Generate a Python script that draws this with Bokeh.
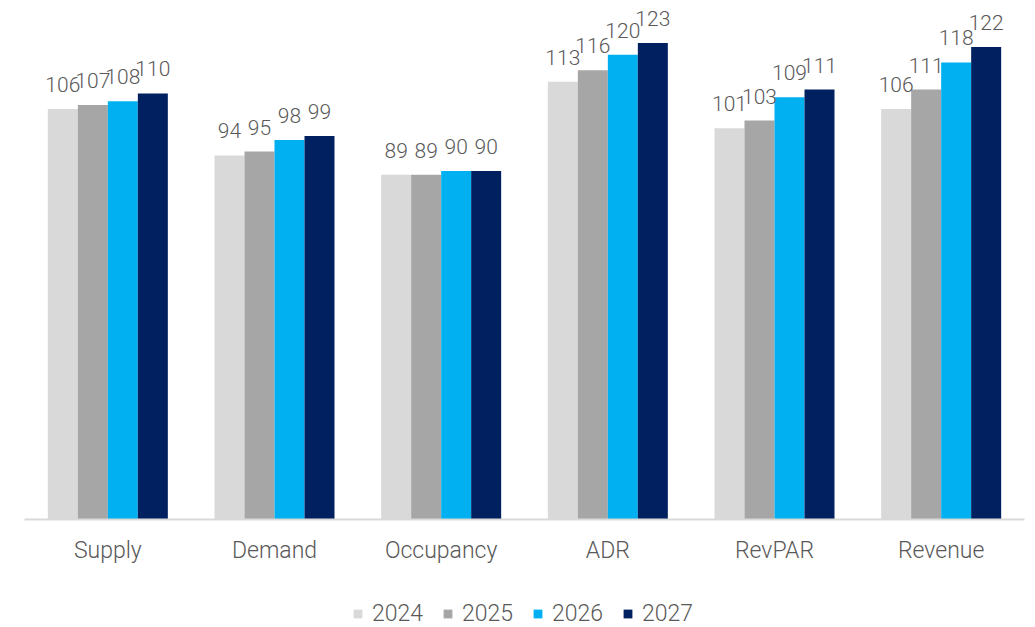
from bokeh.plotting import figure
from bokeh.models import ColumnDataSource, FactorRange, Range1d, Legend, LegendItem, LabelSet
from bokeh.layouts import column
from bokeh.core.properties import value
from bokeh.transform import dodge
from bokeh.embed import file_html
from bokeh.resources import INLINE

categories = ["Supply", "Demand", "Occupancy", "ADR", "RevPAR", "Revenue"]
years = ["2024", "2025", "2026", "2027"]
v2024 = [106, 94, 89, 113, 101, 106]
v2025 = [107, 95, 89, 116, 103, 111]
v2026 = [108, 98, 90, 120, 109, 118]
v2027 = [110, 99, 90, 123, 111, 122]
colors = ["#d9d9d9", "#a6a6a6", "#00b0f0", "#002060"]

FONT = "'Roboto Light', Roboto"
TXT = "#595959"

series = [v2024, v2025, v2026, v2027]
src = ColumnDataSource(dict(cat=categories, **{y: s for y, s in zip(years, series)},
                            **{"t" + y: [str(v) for v in s] for y, s in zip(years, series)}))

p = figure(x_range=FactorRange(*categories, range_padding=0), y_range=Range1d(0, 134),
           width=1035, height=590,
           output_backend="svg", toolbar_location=None,
           min_border_left=24, min_border_right=11, min_border_top=0, min_border_bottom=71)
p.x_range.range_padding = 0
p.outline_line_color = None
p.background_fill_color = "white"
p.border_fill_color = "white"
p.xgrid.grid_line_color = None
p.ygrid.grid_line_color = None
p.yaxis.visible = False

bw = 0.18
offsets = [-1.5 * bw, -0.5 * bw, 0.5 * bw, 1.5 * bw]
for y, c, off in zip(years, colors, offsets):
    p.vbar(x=dodge("cat", off, range=p.x_range), top=y, width=bw, source=src,
           fill_color=c, line_color=None)
    lbl = LabelSet(x=dodge("cat", off, range=p.x_range), y=y, text="t" + y, source=src,
                   text_align="center", text_baseline="bottom", y_offset=17,
                   text_font=value(FONT), text_font_size="21px", text_color=TXT)
    p.add_layout(lbl)

ax = p.xaxis[0]
ax.axis_line_color = "#d9d9d9"
ax.axis_line_width = 2
ax.major_tick_line_color = None
ax.minor_tick_line_color = None
ax.major_label_text_font = FONT
ax.major_label_text_font_size = "23px"
ax.major_label_text_color = TXT
ax.major_label_standoff = 11

# legend strip
lg = figure(width=1035, height=37, x_range=Range1d(0, 1), y_range=Range1d(0, 1),
            output_backend="svg", toolbar_location=None, min_border=0)
lg.axis.visible = False
lg.grid.grid_line_color = None
lg.outline_line_color = None
items = []
offscreen = ColumnDataSource(dict(x=[-10], top=[-10]))
for y, c in zip(years, colors):
    r = lg.vbar(x="x", top="top", width=0.1, source=offscreen, fill_color=c, line_color=None)
    items.append(LegendItem(label=y, renderers=[r]))
legend = Legend(items=items, orientation="horizontal", location=(328, 0),
                label_text_font=FONT, label_text_font_size="23px",
                label_text_color=TXT, glyph_width=11, glyph_height=11,
                spacing=19, label_standoff=9, border_line_color=None,
                background_fill_alpha=0, margin=0, padding=0)
lg.add_layout(legend, "center")

open("out.html", "w").write(file_html(column(p, lg, spacing=0), INLINE))
